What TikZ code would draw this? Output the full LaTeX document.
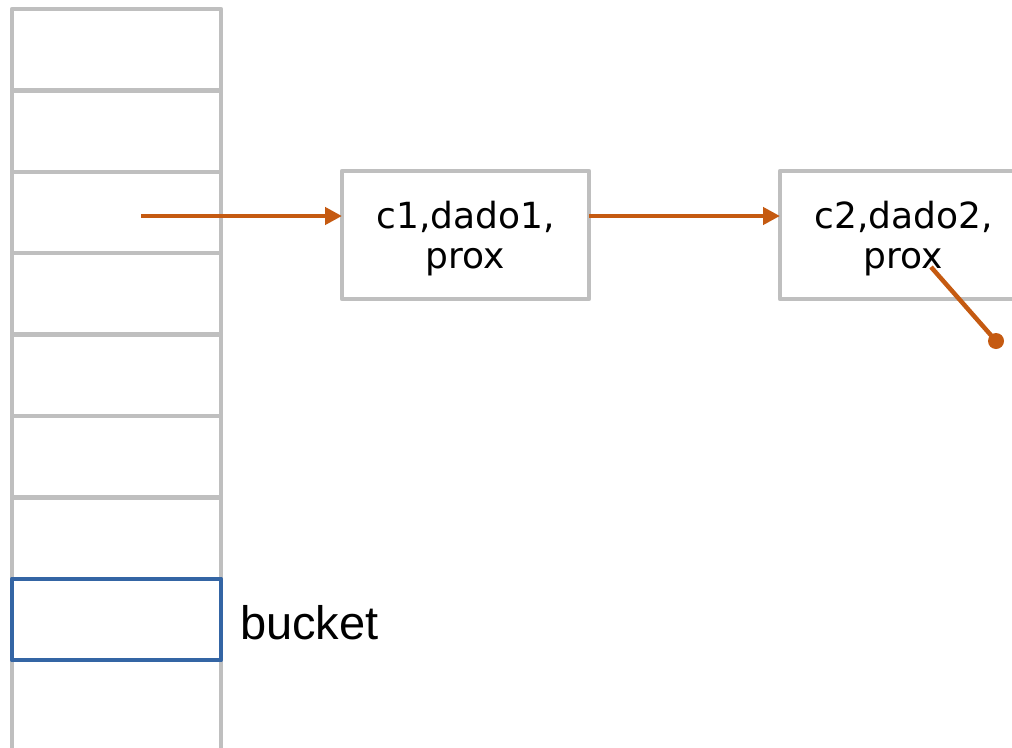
\documentclass[tikz,border=0pt]{standalone}
\usepackage{fontspec}
\setmainfont{DejaVu Sans}
\newfontfamily\labelfont{Liberation Sans}
\usetikzlibrary{arrows.meta}
\definecolor{cellgray}{HTML}{BFBFBF}
\definecolor{bucketblue}{HTML}{3465A4}
\definecolor{linkorange}{HTML}{C55A11}
\newcommand{\topstrut}{\rule{0pt}{35pt}}
\begin{document}
\begin{tikzpicture}[x=1pt,y=-1pt,
  cell/.style={draw=cellgray,line width=4.5pt,line join=round,minimum width=209pt,minimum height=81.4pt,inner sep=0pt,outer sep=0pt,anchor=north west},
  bucketcell/.style={cell,draw=bucketblue},
  entry/.style={draw=cellgray,line width=4.5pt,line join=round,minimum width=247pt,minimum height=128pt,inner sep=0pt,outer sep=0pt,anchor=north west,align=center,font=\fontsize{36}{40}\selectfont},
  link/.style={draw=linkorange,line width=4.5pt,-{Triangle[length=17pt,width=17pt]}},
  tail/.style={draw=linkorange,line width=4.5pt}]
\useasboundingbox (0,0) rectangle (1012,747);
\clip (0,0) rectangle (1012,747);
% hash table column
\foreach \i in {0,...,7}{
  \node[cell] (cell\i) at (12,{9+81.4*\i}) {};
}
\node[cell,minimum height=110pt] (cell8) at (12,{9+81.4*8}) {};
\node[bucketcell] at (cell7.north west) {};
\node[anchor=base west,font=\labelfont\fontsize{47}{50}\selectfont,inner sep=0pt] (bucketlabel) at (240,639) {bucket};
% chained entries
\node[entry] (e1) at (342,171) {\topstrut c1,dado1,\\prox};
\node[entry] (e2) at (780,171) {\topstrut c2,dado2,\\prox};
\coordinate (start) at (141,216);
\coordinate (p2) at (931,267);
\coordinate (nil) at (996,341);
\draw[link] (start) -- (start -| e1.west);
\draw[link] (e1.east |- start) -- (e2.west |- start);
\draw[tail] (p2) -- (nil);
\fill[linkorange] (nil) circle (8pt);
\end{tikzpicture}
\end{document}
